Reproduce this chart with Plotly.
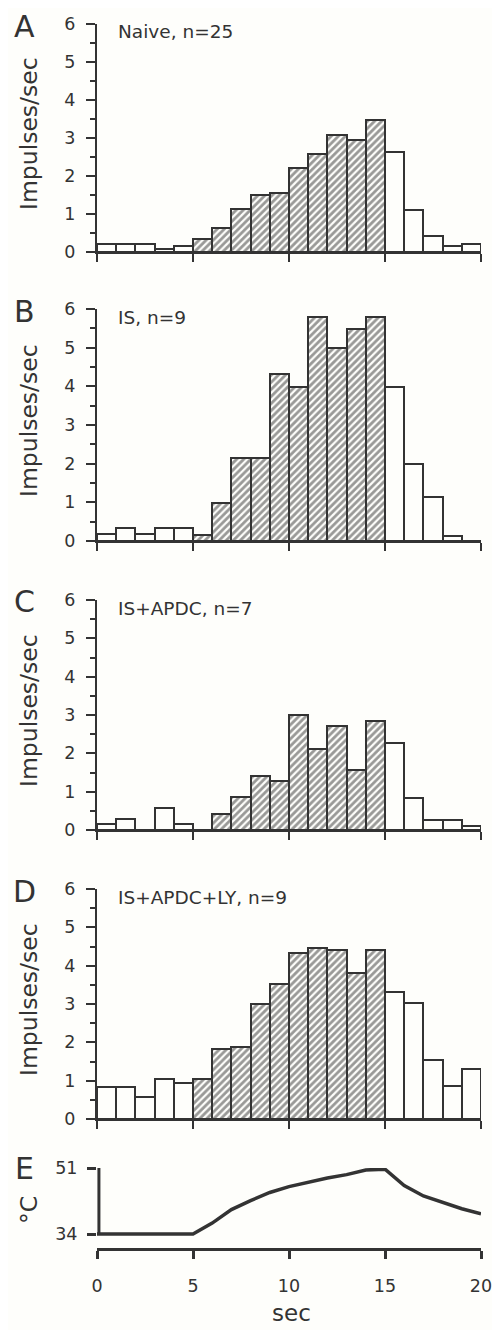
import plotly.graph_objects as go

# ---------------- data ----------------
bin_start = list(range(20))            # seconds, 1-s bins from 0 to 20
stim_on, stim_off = 5, 15              # hatched bins (heat ramp period)

rate_naive = [0.2, 0.2, 0.2, 0.08, 0.17, 0.35, 0.62, 1.12, 1.49, 1.56,
              2.2, 2.57, 3.08, 2.95, 3.47, 2.63, 1.1, 0.42, 0.16, 0.22]
rate_is = [0.17, 0.34, 0.17, 0.34, 0.34, 0.15, 0.99, 2.15, 2.15, 4.32,
           3.98, 5.8, 4.98, 5.47, 5.8, 3.97, 1.98, 1.14, 0.13, 0.0]
rate_is_apdc = [0.15, 0.3, 0.0, 0.57, 0.15, 0.0, 0.41, 0.85, 1.42, 1.29,
                2.99, 2.12, 2.71, 1.57, 2.84, 2.27, 0.83, 0.27, 0.27, 0.11]
rate_is_apdc_ly = [0.83, 0.83, 0.58, 1.05, 0.93, 1.04, 1.82, 1.88, 2.99, 3.52,
                   4.33, 4.46, 4.41, 3.81, 4.41, 3.32, 3.03, 1.55, 0.85, 1.3]

panel_letters = ["A", "B", "C", "D", "E"]
panel_titles = ["Naive, n=25", "IS, n=9", "IS+APDC, n=7", "IS+APDC+LY, n=9"]
series = [rate_naive, rate_is, rate_is_apdc, rate_is_apdc_ly]

temp_time = list(range(21))
temp_c = [34, 34, 34, 34, 34, 34, 36.8, 40.3, 42.6, 44.7, 46.2,
          47.4, 48.4, 49.3, 50.5, 50.7, 46.5, 43.8, 42.1, 40.5, 39.2]

x_ticks = [0, 5, 10, 15, 20]
y_ticks = [0, 1, 2, 3, 4, 5, 6]
temp_ticks = [34, 51]

# ---------------- layout helpers ----------------
# The page has an 8 px body margin: the figure starts 8 px in, so every
# position below is given in window pixels and shifted by OFF.
OFF = 8
W, H = 500 - OFF, 1330 - OFF
INK = "#333333"
BG = "#fefefb"
FONT = "DejaVu Sans"

def px_x(x):
    return (x - OFF) / W

def px_y(y):
    return 1 - (y - OFF) / H

x_dom = [px_x(97), px_x(481)]
# (top px of value 6, bottom px of value 0)
bar_panels_px = [(24, 252), (309, 541), (600, 830), (889, 1119)]
e_top, e_bottom = 1168, 1248

fig = go.Figure()
layout = dict(
    template="none",
    width=W, height=H,
    margin=dict(l=0, r=0, t=0, b=0, pad=0, autoexpand=False),
    paper_bgcolor=BG, plot_bgcolor=BG,
    showlegend=False, bargap=0,
    font=dict(family=FONT, color=INK),
)

annotations = []
shapes = []

for i, (vals, (top, bot)) in enumerate(zip(series, bar_panels_px), start=1):
    xa = "x" if i == 1 else f"x{i}"
    ya = "y" if i == 1 else f"y{i}"
    centers = [b + 0.5 for b in bin_start]
    shapes_pat = ["/" if stim_on <= b < stim_off else "" for b in bin_start]
    fig.add_trace(go.Bar(
        x=centers, y=vals, width=1, xaxis=xa, yaxis=ya,
        marker=dict(color=BG, line=dict(color=INK, width=2),
                    pattern=dict(shape=shapes_pat, size=5, solidity=0.56,
                                 fgcolor=INK, bgcolor=BG, fillmode="overlay")),
        hoverinfo="skip",
    ))
    layout[f"xaxis{i}" if i > 1 else "xaxis"] = dict(
        domain=x_dom, anchor=ya, range=[0, 20], showgrid=False, zeroline=False,
        automargin=False,
        showline=True, linecolor=INK, linewidth=2,
        ticks="outside", tickvals=x_ticks, ticklen=8, tickwidth=2, tickcolor=INK,
        showticklabels=False,
    )
    layout[f"yaxis{i}" if i > 1 else "yaxis"] = dict(
        domain=[px_y(bot), px_y(top)], anchor=xa, range=[0, 6],
        showgrid=False, zeroline=False, automargin=False,
        showline=True, linecolor=INK, linewidth=2,
        ticks="outside", tickvals=y_ticks, ticklen=9, tickwidth=2, tickcolor=INK,
        minor=dict(dtick=0.5, tick0=0, ticks="outside", ticklen=5, tickwidth=2,
                   tickcolor=INK, showgrid=False),
        tickfont=dict(family=FONT, size=17.5, color=INK),
        ticklabelstandoff=7,
    )
    annotations.append(dict(
        text=panel_letters[i - 1], xref="paper", yref="paper",
        x=px_x(24), y=px_y(top + 2), xanchor="center", yanchor="middle",
        showarrow=False, font=dict(family=FONT, size=30, color=INK)))
    annotations.append(dict(
        text=panel_titles[i - 1], xref="paper", yref="paper",
        x=px_x(116), y=px_y(top + 8), xanchor="left", yanchor="middle",
        showarrow=False, font=dict(family=FONT, size=18.5, color=INK)))
    annotations.append(dict(
        text="Impulses/sec", xref="paper", yref="paper", textangle=-90,
        x=px_x(29), y=px_y((top + bot) / 2 - 4), xanchor="center", yanchor="middle",
        showarrow=False, font=dict(family=FONT, size=23.5, color=INK)))

# ---------------- panel E: temperature ----------------
fig.add_trace(go.Scatter(
    x=temp_time, y=temp_c, xaxis="x5", yaxis="y5", mode="lines",
    line=dict(color=INK, width=3.5), hoverinfo="skip"))

# value 51 at e_top px, 34 at 1234 px
px_per_deg = (1234 - e_top) / (temp_ticks[1] - temp_ticks[0])
e_ymin = temp_ticks[0] - (e_bottom - 1234) / px_per_deg

layout["xaxis5"] = dict(
    domain=x_dom, anchor="y5", range=[0, 20], showgrid=False, zeroline=False,
    automargin=False,
    showline=True, linecolor=INK, linewidth=3,
    ticks="outside", tickvals=x_ticks, ticklen=8, tickwidth=3, tickcolor=INK,
    tickfont=dict(family=FONT, size=17.5, color=INK), ticklabelstandoff=12,
)
layout["yaxis5"] = dict(
    domain=[px_y(e_bottom), px_y(e_top)], anchor="x5", range=[e_ymin, temp_ticks[1]],
    showgrid=False, zeroline=False, showline=False, automargin=False,
    ticks="outside", tickvals=temp_ticks, ticklen=9, tickwidth=3, tickcolor=INK,
    tickfont=dict(family=FONT, size=17.5, color=INK), ticklabelstandoff=6,
)
shapes.append(dict(type="line", xref="x5 domain", yref="y5",
                   x0=0.005, x1=0.005, y0=temp_ticks[0], y1=temp_ticks[1],
                   line=dict(color=INK, width=3)))
annotations.append(dict(
    text="E", xref="paper", yref="paper", x=px_x(24), y=px_y(1168),
    xanchor="center", yanchor="middle", showarrow=False,
    font=dict(family=FONT, size=30, color=INK)))
annotations.append(dict(
    text="°C", xref="paper", yref="paper", textangle=-90,
    x=px_x(29), y=px_y(1210), xanchor="center", yanchor="middle",
    showarrow=False, font=dict(family=FONT, size=23.5, color=INK)))
annotations.append(dict(
    text="sec", xref="paper", yref="paper", x=px_x(291), y=px_y(1313),
    xanchor="center", yanchor="middle", showarrow=False,
    font=dict(family=FONT, size=23, color=INK)))

layout["annotations"] = annotations
layout["shapes"] = shapes
fig.update_layout(**layout)

fig.write_html("out.html")
